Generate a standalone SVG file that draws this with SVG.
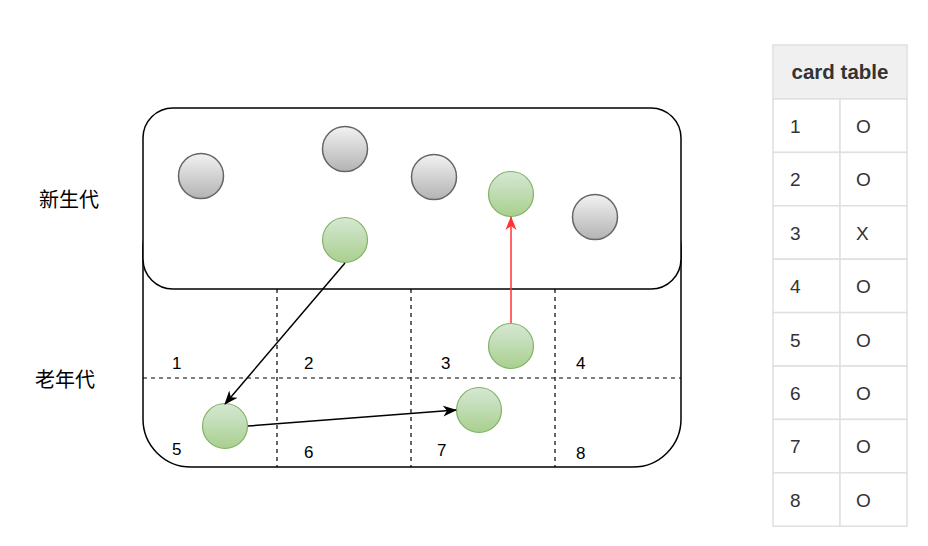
<svg xmlns="http://www.w3.org/2000/svg" width="928" height="546" viewBox="0 0 928 546">
<defs>
<linearGradient id="gGray" x1="0" y1="0" x2="0" y2="1"><stop offset="0" stop-color="#f2f2f2"/><stop offset="1" stop-color="#b3b3b3"/></linearGradient>
<linearGradient id="gGreen" x1="0" y1="0" x2="0" y2="1"><stop offset="0" stop-color="#d5e8d4"/><stop offset="1" stop-color="#a9cf8e"/></linearGradient>
<marker id="ab" markerWidth="14" markerHeight="12" viewBox="0 0 14 12" refX="13" refY="6" orient="auto" markerUnits="userSpaceOnUse"><path d="M0,0.5 L14,6 L0,11.5 L4,6 Z" fill="#000"/></marker>
<marker id="ar" markerWidth="14" markerHeight="12" viewBox="0 0 14 12" refX="13" refY="6" orient="auto" markerUnits="userSpaceOnUse"><path d="M0,0.5 L14,6 L0,11.5 L4,6 Z" fill="#ff3333"/></marker>
</defs>
<style>
.box{fill:#fff;stroke:#000;stroke-width:1.5}
.dash{stroke:#000;stroke-width:1.2;stroke-dasharray:4 4;fill:none}
.gray{fill:url(#gGray);stroke:#666;stroke-width:1.5}
.green{fill:url(#gGreen);stroke:#82b366;stroke-width:1.2}
.t{font-family:"Liberation Sans",Arial,sans-serif;font-size:17px;fill:#000}
.cn{font-family:"Noto Sans CJK SC","Liberation Sans",sans-serif;font-size:20px;fill:#000}
.tb{font-family:"Liberation Sans",Arial,sans-serif;font-size:19px;fill:#333}
.cell{fill:#fff;stroke:#e0e0e0;stroke-width:1.5}
</style>
<rect width="928" height="546" fill="#fff"/>
<g id="oldgen"><rect class="box" x="143" y="200" width="538" height="267" rx="48" ry="48"/></g>
<g id="grid">
<line class="dash" x1="277" y1="289" x2="277" y2="467"/>
<line class="dash" x1="411" y1="289" x2="411" y2="467"/>
<line class="dash" x1="555" y1="289" x2="555" y2="467"/>
<line class="dash" x1="143" y1="378" x2="681" y2="378"/>
</g>
<g id="younggen"><rect class="box" x="143" y="108" width="538" height="181" rx="30" ry="30"/></g>
<g id="nums">
<text class="t" x="172" y="369">1</text>
<text class="t" x="304" y="369">2</text>
<text class="t" x="441" y="369">3</text>
<text class="t" x="576" y="369">4</text>
<text class="t" x="172" y="455">5</text>
<text class="t" x="304" y="458">6</text>
<text class="t" x="437" y="456">7</text>
<text class="t" x="576" y="459">8</text>
</g>
<g id="labels">
<text class="cn" x="39" y="207">新生代</text>
<text class="cn" x="35" y="387">老年代</text>
</g>
<g id="g1"><circle class="gray" cx="201" cy="176" r="22.5"/></g>
<g id="g2"><circle class="gray" cx="345" cy="149" r="22.5"/></g>
<g id="g3"><circle class="gray" cx="434" cy="177" r="22.5"/></g>
<g id="g4"><circle class="gray" cx="595" cy="217" r="22.5"/></g>
<g id="n1"><circle class="green" cx="345" cy="240" r="22.5"/></g>
<g id="n2"><circle class="green" cx="511" cy="194" r="22.5"/></g>
<g id="n3"><circle class="green" cx="511" cy="346" r="22.5"/></g>
<g id="n4"><circle class="green" cx="225" cy="426" r="22.5"/></g>
<g id="n5"><circle class="green" cx="479" cy="410" r="22.5"/></g>
<g id="connectors">
<line x1="345" y1="263" x2="225" y2="404" stroke="#000" stroke-width="1.5" marker-end="url(#ab)"/>
<line x1="248" y1="426" x2="456" y2="410" stroke="#000" stroke-width="1.5" marker-end="url(#ab)"/>
<line x1="511" y1="323" x2="511" y2="217" stroke="#ff3333" stroke-width="1.5" marker-end="url(#ar)"/>
</g>
<g id="cardtable">
<rect x="773" y="45" width="134" height="54" fill="#f0f0f0" stroke="#e0e0e0" stroke-width="1.5"/>
<text x="840" y="79" text-anchor="middle" font-family="Liberation Sans,Arial,sans-serif" font-size="20.5" font-weight="bold" fill="#333">card table</text>
<rect class="cell" x="773" y="99" width="67" height="53.4"/><rect class="cell" x="840" y="99" width="67" height="53.4"/>
<rect class="cell" x="773" y="152.4" width="67" height="53.4"/><rect class="cell" x="840" y="152.4" width="67" height="53.4"/>
<rect class="cell" x="773" y="205.8" width="67" height="53.4"/><rect class="cell" x="840" y="205.8" width="67" height="53.4"/>
<rect class="cell" x="773" y="259.2" width="67" height="53.4"/><rect class="cell" x="840" y="259.2" width="67" height="53.4"/>
<rect class="cell" x="773" y="312.6" width="67" height="53.4"/><rect class="cell" x="840" y="312.6" width="67" height="53.4"/>
<rect class="cell" x="773" y="366" width="67" height="53.4"/><rect class="cell" x="840" y="366" width="67" height="53.4"/>
<rect class="cell" x="773" y="419.4" width="67" height="53.4"/><rect class="cell" x="840" y="419.4" width="67" height="53.4"/>
<rect class="cell" x="773" y="472.8" width="67" height="53.4"/><rect class="cell" x="840" y="472.8" width="67" height="53.4"/>
<text class="tb" x="790" y="133">1</text><text class="tb" x="856" y="133">O</text>
<text class="tb" x="790" y="186">2</text><text class="tb" x="856" y="186">O</text>
<text class="tb" x="790" y="240">3</text><text class="tb" x="856" y="240">X</text>
<text class="tb" x="790" y="293">4</text><text class="tb" x="856" y="293">O</text>
<text class="tb" x="790" y="347">5</text><text class="tb" x="856" y="347">O</text>
<text class="tb" x="790" y="400">6</text><text class="tb" x="856" y="400">O</text>
<text class="tb" x="790" y="453">7</text><text class="tb" x="856" y="453">O</text>
<text class="tb" x="790" y="507">8</text><text class="tb" x="856" y="507">O</text>
</g>
</svg>
